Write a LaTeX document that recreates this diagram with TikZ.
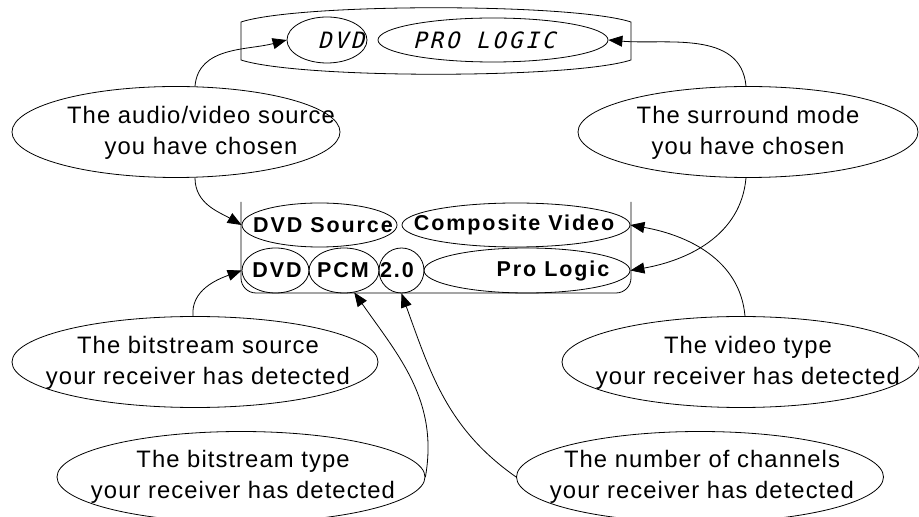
\documentclass[tikz,border=0pt]{standalone}
\usepackage{fontspec}
\setmainfont{Liberation Sans}
\newfontfamily\calloutfont{Liberation Sans}[LetterSpace=4.5]
\newfontfamily\panelfont{Liberation Sans}[LetterSpace=9]
\newfontfamily\segfont{DejaVu Sans Mono}[FakeSlant=0.25,LetterSpace=13]
\usetikzlibrary{shapes.geometric,arrows.meta}
\tikzset{
  oval/.style={draw, ellipse, inner sep=0pt, line width=0.8pt},
  callout/.style={font=\calloutfont\fontsize{23.8}{31}\selectfont, align=center, inner sep=0pt},
  paneltext/.style={font=\panelfont\bfseries\fontsize{21.5}{24}\selectfont, inner sep=0pt},
  segtext/.style={font=\segfont\fontsize{22.5}{24}\selectfont, inner sep=0pt},
  link/.style={line width=0.8pt, -{Triangle[length=14pt,width=11pt]}},
  frame/.style={line width=0.8pt},
}
\begin{document}
\begin{tikzpicture}[x=1pt,y=1pt]
\useasboundingbox (0,0) rectangle (919,517);

% top display
\draw[frame] (241,476) -- (241,495) .. controls (300,514) and (572,514) .. (631,495)
   -- (631,457) .. controls (572,438) and (300,438) .. (241,457) -- cycle;
\node[oval, minimum width=80pt, minimum height=46pt] (dvdtop) at (327,477) {};
\node[segtext] (dvdtoptxt) at (341,477) {DVD};
\node[oval, minimum width=230pt, minimum height=44pt] (protop) at (493,477) {};
\node[segtext] (prototxt) at (484,477) {PRO LOGIC};

% lower display
\draw[frame, rounded corners=15pt] (241,315) -- (241,224) -- (631,224) -- (631,315);
\node[oval, minimum width=155pt, minimum height=44pt] (dsrc) at (319.5,292) {};
\node[paneltext] (dsrctxt) at (323,292) {DVD Source};
\node[oval, minimum width=228pt, minimum height=44pt] (cvid) at (516,292) {};
\node[paneltext] (cvidtxt) at (514,292) {Composite Video};
\node[oval, minimum width=67pt, minimum height=45pt] (dvd2) at (275.5,246.5) {};
\node[paneltext] (dvd2txt) at (277,246.5) {DVD};
\node[oval, minimum width=70pt, minimum height=45pt] (pcm) at (344,246.5) {};
\node[paneltext] (pcmtxt) at (343,246.5) {PCM};
\node[oval, minimum width=45pt, minimum height=45pt] (ch) at (401.5,246.5) {};
\node[paneltext] (chtxt) at (397,246.5) {2.0};
\node[oval, minimum width=206pt, minimum height=45pt] (plog) at (527,246.5) {};
\node[paneltext] (plogtxt) at (553,246.5) {Pro Logic};

% callouts
\node[oval, minimum width=328pt, minimum height=91pt] (audio) at (176,385) {};
\node[callout] (audiotxt) at (201,384.5) {The audio/video source\\you have chosen};
\node[oval, minimum width=340pt, minimum height=91pt] (surround) at (748,385) {};
\node[callout] (surroundtxt) at (748,384.5) {The surround mode\\you have chosen};
\node[oval, minimum width=366pt, minimum height=91pt] (bsrc) at (195,155) {};
\node[callout] (bsrctxt) at (198,154.5) {The bitstream source\\your receiver has detected};
\node[oval, minimum width=358pt, minimum height=91pt] (vtype) at (741,155) {};
\node[callout] (vtypetxt) at (748,154.5) {The video type\\your receiver has detected};
\node[oval, minimum width=368pt, minimum height=91pt] (btype) at (241,40) {};
\node[callout] (btypetxt) at (243,40) {The bitstream type\\your receiver has detected};
\node[oval, minimum width=367pt, minimum height=91pt] (nch) at (700,40) {};
\node[callout] (nchtxt) at (702,40) {The number of channels\\your receiver has detected};

% connectors
\draw[link] ([xshift=19pt]audio.north) to[out=85,in=195] (dvdtop.west);
\draw[link] ([xshift=19pt]audio.south) to[out=-90,in=150] (dsrc.west);
\draw[link] ([xshift=-2pt]surround.north) to[out=95,in=-5] (protop.east);
\draw[link] ([xshift=-2pt]surround.south) to[out=-95,in=10] (plog.east);
\draw[link] ([xshift=4pt]vtype.north) to[out=95,in=-10] (cvid.east);
\draw[link] ([xshift=-2pt]bsrc.north) to[out=95,in=200] (dvd2.west);
\draw[link] (btype.east) to[out=80,in=-55] (pcm.-65);
\draw[link] (nch.west) to[out=145,in=-70] (ch.south);
\end{tikzpicture}
\end{document}
